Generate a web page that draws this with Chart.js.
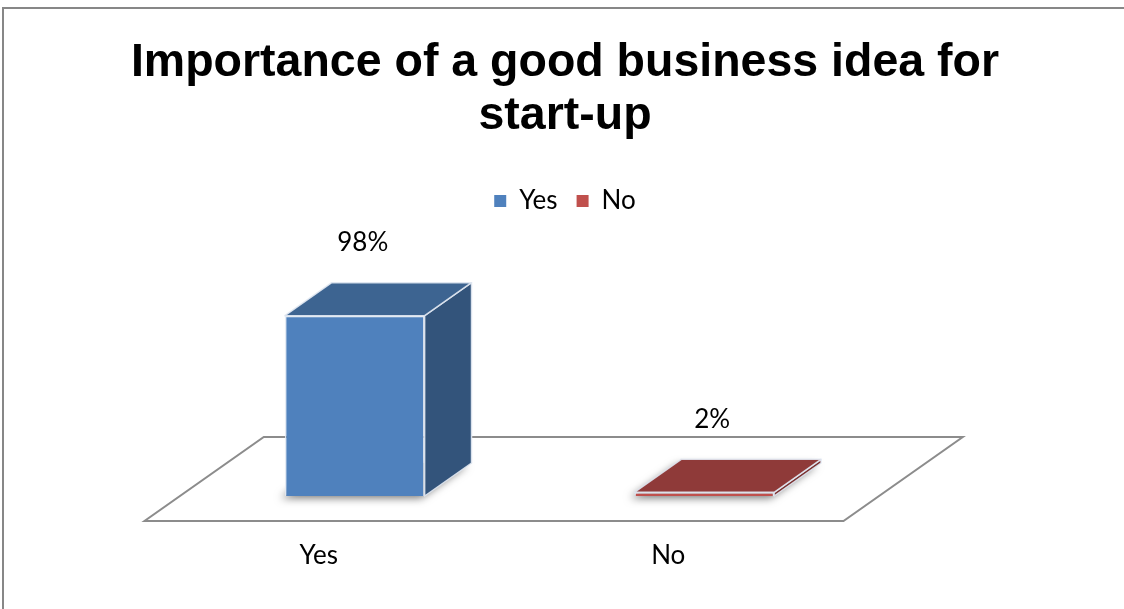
<!DOCTYPE html>
<html>
<head>
<meta charset="utf-8">
<title>Importance of a good business idea for start-up</title>
<script src="https://cdn.jsdelivr.net/npm/chart.js@4/dist/chart.umd.min.js"></script>
<style>
    html, body { margin: 0; padding: 0; background: #fff; }
    #wrap { width: 1124px; height: 609px; }
</style>
</head>
<body>
<div id="wrap"><canvas id="ideaChart" width="1124" height="609"></canvas></div>
<script>
const categories = ['Yes', 'No'];
const percentValues = [98, 2];
const frontColors = ['#4f81bd', '#c0504d'];
const topColors = ['#3d6491', '#8f3a39'];
const sideColors = ['#33547b', '#7a3130'];

const FONT = 'Lato, "Open Sans", sans-serif';
const TITLE_FONT = '"Liberation Sans", Arial, sans-serif';
// depth direction of the fake 3d view (x per y)
const SLANT = 1.42;
const BAR_DEPTH = 33;
const FLOOR_FRONT = 25;
const FLOOR_BACK = 59;

function poly(ctx, pts) {
    ctx.beginPath();
    ctx.moveTo(pts[0][0], pts[0][1]);
    for (let i = 1; i < pts.length; i++) ctx.lineTo(pts[i][0], pts[i][1]);
    ctx.closePath();
}

const frame = {
    id: 'frame',
    beforeDraw(chart) {
        const ctx = chart.ctx;
        ctx.save();
        ctx.strokeStyle = '#878787';
        ctx.lineWidth = 2;
        ctx.beginPath();
        ctx.moveTo(3, chart.height);
        ctx.lineTo(3, 8);
        ctx.lineTo(chart.width, 8);
        ctx.stroke();
        ctx.restore();
    }
};

// legend box is made tall so the plot starts lower down
const legendGap = {
    id: 'legendGap',
    beforeInit(chart) {
        const fit = chart.legend.fit;
        chart.legend.fit = function () {
            fit.bind(chart.legend)();
            this.height = 143;
        };
    }
};

const floor3d = {
    id: 'floor3d',
    beforeDatasetsDraw(chart) {
        const { ctx, chartArea } = chart;
        const base = chart.scales.y.getPixelForValue(0);
        const l = chartArea.left, r = chartArea.right;
        ctx.save();
        poly(ctx, [
            [l - FLOOR_FRONT * SLANT, base + FLOOR_FRONT],
            [r - FLOOR_FRONT * SLANT, base + FLOOR_FRONT],
            [r + FLOOR_BACK * SLANT, base - FLOOR_BACK],
            [l + FLOOR_BACK * SLANT, base - FLOOR_BACK]
        ]);
        ctx.fillStyle = '#fff';
        ctx.fill();
        ctx.strokeStyle = '#8c8c8c';
        ctx.lineWidth = 2;
        ctx.stroke();

        // soft shadow under each bar footprint
        const dx = BAR_DEPTH * SLANT;
        chart.getDatasetMeta(0).data.forEach(bar => {
            const x1 = bar.x - bar.width / 2, x2 = bar.x + bar.width / 2;
            ctx.save();
            ctx.shadowColor = 'rgba(0,0,0,0.55)';
            ctx.shadowBlur = 9;
            ctx.shadowOffsetX = -4;
            ctx.shadowOffsetY = 2;
            poly(ctx, [[x1, bar.base], [x2, bar.base], [x2 + dx, bar.base - BAR_DEPTH], [x1 + dx, bar.base - BAR_DEPTH]]);
            ctx.fillStyle = '#999';
            ctx.fill();
            ctx.restore();
        });
        ctx.restore();
    },
    afterDatasetsDraw(chart) {
        const ctx = chart.ctx;
        const dx = BAR_DEPTH * SLANT;
        ctx.save();
        chart.getDatasetMeta(0).data.forEach((bar, i) => {
            const x1 = bar.x - bar.width / 2, x2 = bar.x + bar.width / 2;
            const top = bar.y, base = bar.base;
            ctx.lineWidth = 1.5;
            ctx.strokeStyle = 'rgba(225,232,242,0.9)';
            ctx.lineJoin = 'round';
            // side
            poly(ctx, [[x2, top], [x2 + dx, top - BAR_DEPTH], [x2 + dx, base - BAR_DEPTH], [x2, base]]);
            ctx.fillStyle = sideColors[i];
            ctx.fill();
            ctx.stroke();
            // top
            poly(ctx, [[x1, top], [x2, top], [x2 + dx, top - BAR_DEPTH], [x1 + dx, top - BAR_DEPTH]]);
            ctx.fillStyle = topColors[i];
            ctx.fill();
            ctx.stroke();

            // value label
            ctx.fillStyle = '#000';
            ctx.font = '26px ' + FONT;
            ctx.textAlign = 'center';
            ctx.textBaseline = 'middle';
            ctx.fillText(percentValues[i] + '%', bar.x + 8, top - 73);
        });
        ctx.restore();
    }
};

const hiddenAxis = {
    grid: { display: false, drawTicks: false },
    border: { display: false },
    ticks: { display: false }
};

new Chart(document.getElementById('ideaChart'), {
    type: 'bar',
    data: {
        labels: categories,
        datasets: [{
            data: percentValues,
            backgroundColor: frontColors,
            borderColor: 'rgba(225,232,242,0.9)',
            borderWidth: 1.5,
            barPercentage: 0.4,
            categoryPercentage: 1
        }]
    },
    options: {
        responsive: false,
        animation: false,
        layout: {
            padding: { top: 8, left: 30, right: 24, bottom: 37 }
        },
        scales: {
            x: {
                grid: { display: false, drawTicks: false },
                border: { display: false },
                ticks: {
                    color: '#000',
                    font: { family: FONT, size: 26 },
                    padding: 44,
                    labelOffset: -36
                },
                afterFit(scale) { scale.height = 76; }
            },
            y: {
                ...hiddenAxis,
                position: 'left',
                min: 0,
                max: 100,
                afterFit(scale) { scale.width = 150; }
            },
            // empty axis that only keeps room on the right of the plot
            yRight: {
                ...hiddenAxis,
                type: 'linear',
                position: 'right',
                afterFit(scale) { scale.width = 221; }
            }
        },
        plugins: {
            title: {
                display: true,
                text: ['Importance of a good business idea for', 'start-up'],
                color: '#000',
                font: { family: TITLE_FONT, size: 46.5, weight: 'bold', lineHeight: 1.14 },
                padding: { top: 29, bottom: 26 }
            },
            legend: {
                position: 'top',
                labels: {
                    color: '#000',
                    font: { family: FONT, size: 26 },
                    boxWidth: 12,
                    boxHeight: 12,
                    padding: 19,
                    generateLabels: () => categories.map((c, i) => ({
                        text: c,
                        fillStyle: frontColors[i],
                        strokeStyle: frontColors[i],
                        lineWidth: 0,
                        index: i
                    }))
                }
            },
            tooltip: { enabled: false }
        }
    },
    plugins: [frame, legendGap, floor3d]
});
</script>
</body>
</html>
